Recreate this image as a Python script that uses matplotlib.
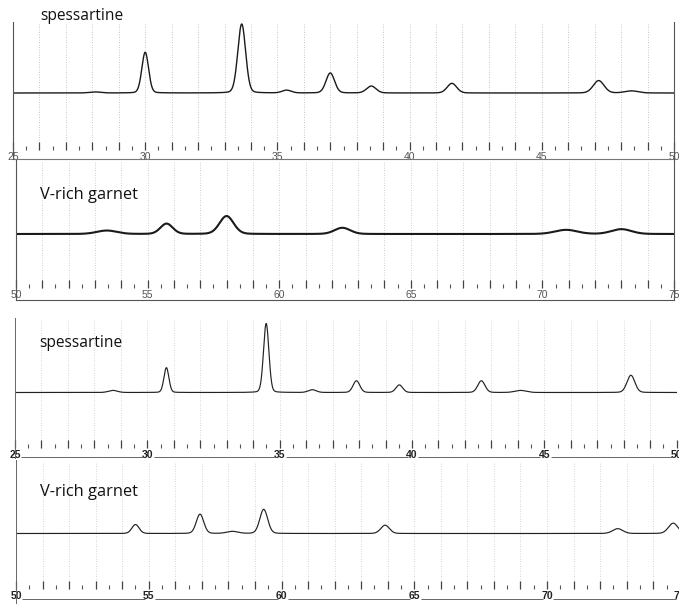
import numpy as np
import matplotlib
matplotlib.use("Agg")
import matplotlib.pyplot as plt
from matplotlib.ticker import MultipleLocator, FuncFormatter

W, H = 679, 604
PX = 0.69  # pixels per intensity unit

# peak lists: position (2theta), height, width
sp1_pos = [28.1, 30.0, 33.65, 35.35, 37.0, 38.55, 41.6, 47.15, 48.4]
sp1_int = [1.5, 59, 100, 4, 29, 10, 14, 18, 3]
sp1_fwhm = [0.5, 0.3, 0.35, 0.4, 0.38, 0.42, 0.42, 0.48, 0.6]

vg1_pos = [53.45, 55.72, 58.0, 62.4, 70.9, 73.0]
vg1_int = [5, 15, 26, 9, 6, 7]
vg1_fwhm = [0.9, 0.55, 0.63, 0.7, 1.0, 0.9]

sp2_pos = [28.7, 30.72, 34.49, 36.23, 37.9, 39.52, 42.62, 44.1, 48.27]
sp2_int = [3, 36, 100, 4, 17, 11, 17, 3, 25]
sp2_fwhm = [0.4, 0.22, 0.24, 0.35, 0.3, 0.3, 0.32, 0.5, 0.35]

vg2_pos = [54.5, 56.93, 58.15, 59.33, 63.9, 72.66, 74.75]
vg2_int = [13, 28, 3, 35, 12, 7, 15]
vg2_fwhm = [0.32, 0.33, 0.5, 0.35, 0.38, 0.45, 0.42]


def profile(x, pos, inten, fwhm, eta=0.12):
    y = np.zeros_like(x)
    for p, h, w in zip(pos, inten, fwhm):
        d = (x - p) / w
        y += h * ((1 - eta) * np.exp(-4 * np.log(2) * d ** 2) + eta / (1 + 4 * d ** 2))
    return y


fig = plt.figure(figsize=(W / 100, H / 100), dpi=100)


def make_panel(x0, x1, px0, px1, top, bot, base):
    ax = fig.add_axes([px0 / W, 1 - bot / H, (px1 - px0) / W, (bot - top) / H])
    ax.set_xlim(x0, x1)
    ax.set_ylim(-(bot - base) / PX, (base - top) / PX)
    ax.set_facecolor("none")
    return ax


def to_data(base, p):
    return (base - p) / PX


def dress(ax, x0, x1, base, tickbase, top, lab_color, lab_weight, grid_color):
    yt = to_data(base, tickbase)
    ax.spines["bottom"].set_position(("data", yt))
    ax.spines["bottom"].set_visible(False)
    ax.spines["top"].set_visible(False)
    ax.set_yticks([])
    ax.xaxis.set_major_locator(MultipleLocator(1))
    ax.xaxis.set_minor_locator(MultipleLocator(0.5))
    ax.xaxis.set_major_formatter(FuncFormatter(lambda v, p: "%d" % v if round(v) % 5 == 0 else ""))
    ax.tick_params(axis="x", which="major", direction="in", length=6, width=0.9,
                   color="#444444", pad=1.2, labelsize=7.5, labelcolor=lab_color)
    ax.tick_params(axis="x", which="minor", direction="in", length=3, width=0.8, color="#555555")
    for t in ax.get_xticklabels():
        t.set_fontfamily("Liberation Sans")
        t.set_fontweight(lab_weight)
    xs = np.arange(np.ceil(x0), np.floor(x1) + 1)
    ax.vlines(xs[1:-1], yt, to_data(base, top + 2), colors=grid_color,
              linestyles=(0, (1, 2)), linewidth=0.6, zorder=0)


def underline(ax, x0, x1, y):
    starts = np.arange(x0, x1, 5)
    ax.hlines(np.full(len(starts), y), starts + 0.24, starts + 5 - 0.15,
              color="#666666", lw=0.7)


x_sp = np.arange(25, 50.001, 0.01)
x_vg = np.arange(50, 75.001, 0.01)

# upper spessartine
ax1 = make_panel(25, 50, 13, 674, 22, 159, 93)
ax1.plot(x_sp, profile(x_sp, sp1_pos, sp1_int, sp1_fwhm), color="#1a1a1a", lw=1.0)
dress(ax1, 25, 50, 93, 150, 22, "#555555", "normal", "#b5b5b5")
ax1.plot([0, 1], [0, 0], transform=ax1.transAxes, color="#777777", lw=0.8, clip_on=False)
for s in ("left", "right"):
    ax1.spines[s].set_color("#555555")
    ax1.spines[s].set_linewidth(0.8)

# upper V-rich garnet
ax2 = make_panel(50, 75, 16, 674, 160, 300, 234)
ax2.plot(x_vg, profile(x_vg, vg1_pos, vg1_int, vg1_fwhm), color="#1a1a1a", lw=1.5)
dress(ax2, 50, 75, 234, 288.3, 160, "#555555", "normal", "#c0c0c0")
ax2.plot([0, 1], [0, 0], transform=ax2.transAxes, color="#555555", lw=0.8, clip_on=False)
for s in ("left", "right"):
    ax2.spines[s].set_color("#555555")
    ax2.spines[s].set_linewidth(0.8)

# lower spessartine
ax3 = make_panel(25, 50, 15, 676.7, 318, 458, 392.5)
ax3.plot(x_sp, profile(x_sp, sp2_pos, sp2_int, sp2_fwhm), color="#222222", lw=0.85)
dress(ax3, 25, 50, 392.5, 448.3, 318, "#222222", "bold", "#c8c8c8")
ax3.spines["right"].set_visible(False)
ax3.spines["left"].set_color("#666666")
ax3.spines["left"].set_linewidth(0.7)
underline(ax3, 25, 50, to_data(392.5, 457.3))

# lower V-rich garnet
ax4 = make_panel(50, 75, 16, 679.8, 460, 604, 533.5)
ax4.plot(x_vg, profile(x_vg, vg2_pos, vg2_int, vg2_fwhm), color="#222222", lw=0.85)
dress(ax4, 50, 75, 533.5, 589, 460, "#222222", "bold", "#c8c8c8")
ax4.spines["right"].set_visible(False)
ax4.spines["left"].set_color("#666666")
ax4.spines["left"].set_linewidth(0.7)
underline(ax4, 50, 75, to_data(533.5, 599.3))

# sample names
names = [("spessartine", 40, 20, 11.2), ("V-rich garnet", 40, 199.3, 11.8),
         ("spessartine", 39.3, 346.7, 11.2), ("V-rich garnet", 40, 496, 11.8)]
for txt, x, y, fs in names:
    fig.text(x / W, 1 - y / H, txt, fontsize=fs, family="Open Sans",
             ha="left", va="baseline", color="#111111")

fig.savefig("out.png", dpi=100)
